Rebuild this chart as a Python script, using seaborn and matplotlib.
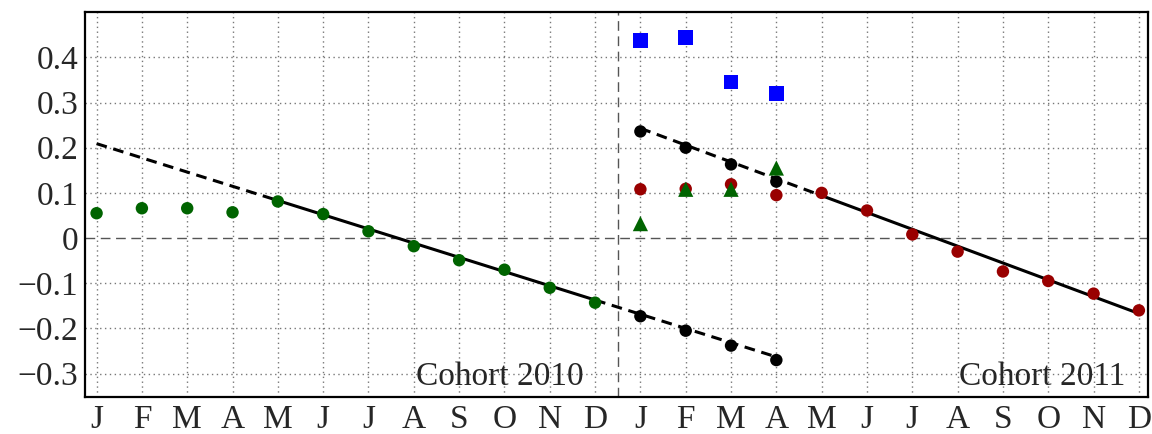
import numpy as np
import pandas as pd
import seaborn as sns
import matplotlib.pyplot as plt

# month labels for two cohort years
months = ['J', 'F', 'M', 'A', 'M', 'J', 'J', 'A', 'S', 'O', 'N', 'D'] * 2

# cohort 2010 observed (green circles), months 0-11
obs_2010 = [0.055, 0.066, 0.066, 0.057, 0.081, 0.053, 0.015, -0.018, -0.049, -0.070, -0.110, -0.143]
# cohort 2011 observed (red circles), months 12-23
obs_2011 = [0.108, 0.109, 0.119, 0.095, 0.100, 0.061, 0.008, -0.030, -0.074, -0.095, -0.123, -0.160]
# extrapolated trend points (black circles), months 12-15
trend_2010_pts = [-0.173, -0.205, -0.238, -0.270]
trend_2011_pts = [0.236, 0.200, 0.163, 0.125]
# other estimates, months 12-15
triangles = [0.032, 0.108, 0.108, 0.155]
squares = [0.437, 0.444, 0.345, 0.320]

# trend line end points
trend_2010 = [0.209, -0.263]   # month 0 -> month 15
trend_2011 = [0.243, -0.167]   # month 12 -> month 23

sns.set_theme(style='white')
plt.rcParams['font.family'] = ['Liberation Serif', 'DejaVu Serif']

fig, ax = plt.subplots(figsize=(11.52, 4.34), dpi=100)
fig.subplots_adjust(left=0.074, right=0.9965, top=0.972, bottom=0.085)

x10 = np.arange(12)
x11 = np.arange(12, 24)
xf = np.arange(12, 16)

# grid
for v in range(24):
    ax.axvline(v, color='#777777', lw=1.0, ls=(0, (1, 2.5)), zorder=0)
for v in np.arange(-0.3, 0.45, 0.1):
    if abs(v) > 1e-9:
        ax.axhline(v, color='#777777', lw=1.0, ls=(0, (1, 2.5)), zorder=0)
ax.axhline(0, color='#555555', lw=1.0, ls=(0, (7, 4)), zorder=0)
ax.axvline(11.5, color='#555555', lw=1.0, ls=(0, (7, 4)), zorder=0)

# trend lines
def seg(x0, x1, y0, y1, a, b):
    ya = y0 + (y1 - y0) * (a - x0) / (x1 - x0)
    yb = y0 + (y1 - y0) * (b - x0) / (x1 - x0)
    return pd.DataFrame({'x': [a, b], 'y': [ya, yb]})

dash = (0, (3.5, 2.2))
sns.lineplot(data=seg(0, 15, *trend_2010, 0, 4), x='x', y='y', color='black', lw=2.2, ax=ax, zorder=2).lines[-1].set_linestyle(dash)
sns.lineplot(data=seg(0, 15, *trend_2010, 4, 11), x='x', y='y', color='black', lw=2.2, ax=ax, zorder=2)
sns.lineplot(data=seg(0, 15, *trend_2010, 11, 15), x='x', y='y', color='black', lw=2.2, ax=ax, zorder=2).lines[-1].set_linestyle(dash)
sns.lineplot(data=seg(12, 23, *trend_2011, 12, 16), x='x', y='y', color='black', lw=2.2, ax=ax, zorder=2).lines[-1].set_linestyle(dash)
sns.lineplot(data=seg(12, 23, *trend_2011, 16, 23), x='x', y='y', color='black', lw=2.2, ax=ax, zorder=2)

# markers
sns.scatterplot(x=x10, y=obs_2010, color='#006400', s=80, edgecolor='none', ax=ax, zorder=3)
sns.scatterplot(x=x11, y=obs_2011, color='#990000', s=80, edgecolor='none', ax=ax, zorder=3)
sns.scatterplot(x=xf, y=trend_2010_pts, color='black', s=80, edgecolor='none', ax=ax, zorder=3)
sns.scatterplot(x=xf, y=trend_2011_pts, color='black', s=80, edgecolor='none', ax=ax, zorder=3)
sns.scatterplot(x=xf, y=triangles, color='#006400', marker='^', s=120, edgecolor='none', ax=ax, zorder=4)
sns.scatterplot(x=xf, y=squares, color='#0000ff', marker='s', s=110, edgecolor='none', ax=ax, zorder=4)

ax.text(10.75, -0.326, 'Cohort 2010', ha='right', va='baseline', fontsize=24)
ax.text(22.7, -0.326, 'Cohort 2011', ha='right', va='baseline', fontsize=24)

ax.set_xlim(-0.25, 23.2)
ax.set_ylim(-0.352, 0.5)
ax.set_xticks(range(24))
ax.set_xticklabels(months)
ax.set_yticks(np.round(np.arange(-0.3, 0.45, 0.1), 1))
ax.set_yticklabels(['\u22120.3', '\u22120.2', '\u22120.1', '0', '0.1', '0.2', '0.3', '0.4'])
ax.tick_params(axis='both', labelsize=24, length=0, pad=5)
ax.set_xlabel('')
ax.set_ylabel('')
for s in ax.spines.values():
    s.set_color('black')
    s.set_linewidth(1.6)

fig.savefig('out.png', dpi=100)
